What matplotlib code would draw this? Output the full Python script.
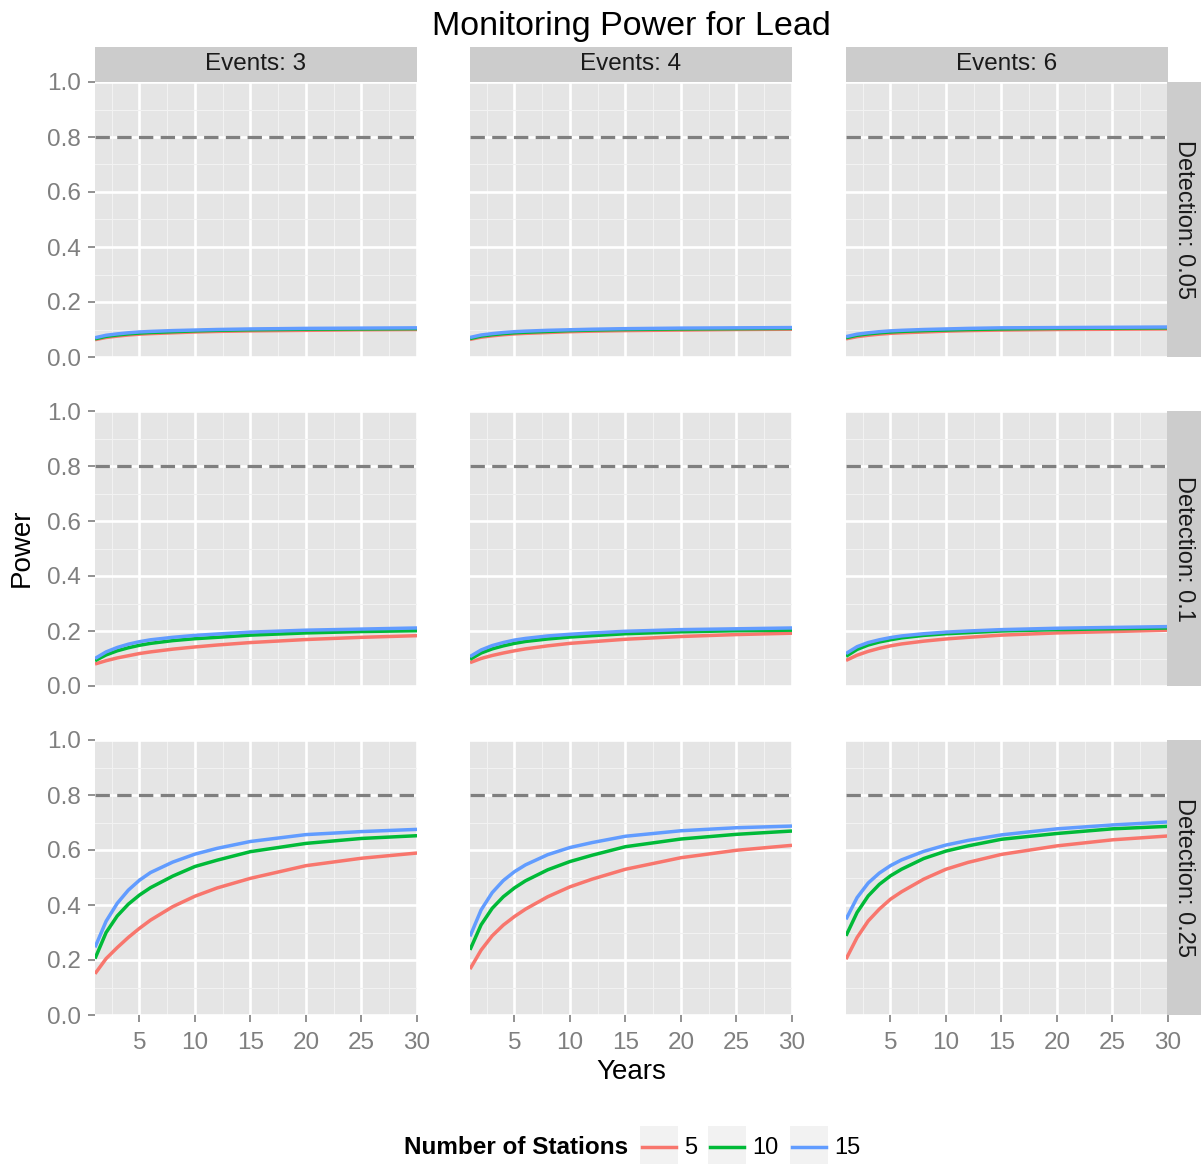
import matplotlib
matplotlib.use("Agg")
import matplotlib.pyplot as plt
from matplotlib.patches import Rectangle
from matplotlib.lines import Line2D
from matplotlib.ticker import MultipleLocator

plt.rcParams['font.family'] = ['Liberation Sans', 'DejaVu Sans']

# Данные
YEARS = [1, 2, 3, 4, 5, 6, 8, 10, 12, 15, 20, 25, 30]
EVENTS = [3, 4, 6]
DETECTION = [0.05, 0.1, 0.25]
STATIONS = [5, 10, 15]

# Detection 0.05
D005_E3_S5 = [.063, .071, .076, .080, .083, .085, .088, .091, .093, .095, .097, .099, .100]
D005_E3_S10 = [.066, .075, .080, .084, .087, .089, .092, .095, .097, .099, .101, .102, .103]
D005_E3_S15 = [.070, .079, .084, .088, .091, .093, .096, .098, .100, .102, .104, .105, .106]
D005_E4_S5 = [.064, .072, .077, .081, .084, .086, .089, .092, .094, .096, .098, .100, .101]
D005_E4_S10 = [.067, .076, .081, .085, .088, .090, .093, .096, .098, .100, .102, .103, .104]
D005_E4_S15 = [.071, .080, .085, .089, .092, .094, .097, .099, .101, .103, .105, .106, .107]
D005_E6_S5 = [.066, .074, .079, .083, .086, .088, .091, .094, .096, .098, .100, .101, .102]
D005_E6_S10 = [.070, .079, .084, .088, .091, .093, .096, .098, .100, .102, .104, .105, .106]
D005_E6_S15 = [.074, .083, .088, .092, .095, .097, .100, .102, .104, .106, .107, .108, .109]

# Detection 0.1
D01_E3_S5 = [.080, .092, .102, .110, .118, .124, .134, .142, .149, .158, .169, .177, .183]
D01_E3_S10 = [.092, .113, .128, .139, .148, .155, .165, .172, .177, .185, .193, .198, .201]
D01_E3_S15 = [.100, .124, .140, .152, .161, .168, .177, .184, .189, .196, .203, .207, .211]
D01_E4_S5 = [.085, .100, .111, .120, .128, .135, .146, .155, .161, .170, .180, .187, .192]
D01_E4_S10 = [.097, .120, .135, .146, .155, .162, .171, .178, .183, .190, .197, .201, .203]
D01_E4_S15 = [.107, .131, .147, .158, .167, .173, .182, .188, .193, .199, .205, .208, .211]
D01_E6_S5 = [.093, .112, .126, .137, .146, .153, .163, .171, .177, .185, .193, .198, .203]
D01_E6_S10 = [.108, .133, .149, .160, .168, .175, .184, .190, .194, .200, .205, .208, .211]
D01_E6_S15 = [.118, .143, .158, .168, .176, .182, .190, .196, .200, .205, .210, .213, .216]

# Detection 0.25
D025_E3_S5 = [.150, .205, .245, .282, .315, .345, .394, .432, .462, .497, .543, .570, .589]
D025_E3_S10 = [.205, .300, .360, .403, .436, .463, .505, .540, .563, .594, .624, .642, .652]
D025_E3_S15 = [.246, .341, .406, .454, .490, .518, .556, .585, .606, .631, .656, .667, .675]
D025_E4_S5 = [.167, .236, .288, .327, .358, .385, .430, .466, .494, .530, .572, .599, .617]
D025_E4_S10 = [.237, .328, .388, .430, .462, .488, .528, .558, .581, .612, .640, .657, .669]
D025_E4_S15 = [.286, .382, .445, .489, .521, .546, .583, .609, .627, .650, .670, .681, .687]
D025_E6_S5 = [.203, .282, .342, .385, .421, .448, .494, .530, .555, .584, .615, .637, .651]
D025_E6_S10 = [.288, .373, .433, .475, .506, .530, .569, .596, .615, .639, .660, .677, .686]
D025_E6_S15 = [.348, .427, .480, .516, .543, .564, .595, .618, .635, .655, .677, .691, .702]

POWER = {
    (0.05, 3): [D005_E3_S5, D005_E3_S10, D005_E3_S15],
    (0.05, 4): [D005_E4_S5, D005_E4_S10, D005_E4_S15],
    (0.05, 6): [D005_E6_S5, D005_E6_S10, D005_E6_S15],
    (0.1, 3): [D01_E3_S5, D01_E3_S10, D01_E3_S15],
    (0.1, 4): [D01_E4_S5, D01_E4_S10, D01_E4_S15],
    (0.1, 6): [D01_E6_S5, D01_E6_S10, D01_E6_S15],
    (0.25, 3): [D025_E3_S5, D025_E3_S10, D025_E3_S15],
    (0.25, 4): [D025_E4_S5, D025_E4_S10, D025_E4_S15],
    (0.25, 6): [D025_E6_S5, D025_E6_S10, D025_E6_S15],
}
TARGET = 0.8

COLORS = ["#F8766D", "#00BA38", "#619CFF"]
PANEL_BG = "#E5E5E5"
STRIP_BG = "#CCCCCC"
TICK_COLOR = "#7F7F7F"

W, H = 1201, 1164
fig = plt.figure(figsize=(W / 100, H / 100), dpi=100)
fig.patch.set_facecolor("white")


def px_rect(x, y, w, h):
    """Пиксельный прямоугольник (от верхнего левого угла) -> доли фигуры."""
    return [x / W, 1 - (y + h) / H, w / W, h / H]


COL_X = [95, 470, 846]
ROW_Y = [82, 411, 740]
PW, PH = 322, 275

for r, det in enumerate(DETECTION):
    for c, ev in enumerate(EVENTS):
        ax = fig.add_axes(px_rect(COL_X[c], ROW_Y[r], PW, PH))
        ax.set_facecolor(PANEL_BG)
        for s in ax.spines.values():
            s.set_visible(False)
        ax.set_xlim(1, 30)
        ax.set_ylim(0, 1)
        ax.xaxis.set_major_locator(MultipleLocator(5))
        ax.xaxis.set_minor_locator(MultipleLocator(2.5))
        ax.yaxis.set_major_locator(MultipleLocator(0.2))
        ax.yaxis.set_minor_locator(MultipleLocator(0.1))
        ax.grid(which='minor', color='#F2F2F2', lw=0.8)
        ax.grid(which='major', color='white', lw=1.9)
        ax.set_axisbelow(True)
        ax.tick_params(which='minor', length=0)
        ax.tick_params(which='major', length=5, width=1.2, color=TICK_COLOR,
                       labelcolor=TICK_COLOR, labelsize=17.5)
        ax.tick_params(axis='y', pad=5)
        ax.tick_params(axis='x', pad=7)

        if c == 0:
            ax.yaxis.set_major_formatter(plt.FuncFormatter(lambda v, p: f"{v:.1f}"))
        else:
            ax.tick_params(axis='y', left=False, labelleft=False)
        if r == 2:
            ax.set_xticks([5, 10, 15, 20, 25, 30])
        else:
            ax.tick_params(axis='x', bottom=False, labelbottom=False)

        for k, series in enumerate(POWER[(det, ev)]):
            ax.plot(YEARS, series, color=COLORS[k], lw=2.5, solid_capstyle='butt',
                    solid_joinstyle='round', zorder=3)
        ax.axhline(TARGET, color="#7F7F7F", lw=2.3, ls=(0, (4.5, 2.3)), zorder=2)

        # Полоски с подписями фасетов
        if r == 0:
            sax = fig.add_axes(px_rect(COL_X[c], 47, PW, 35))
            sax.set_facecolor(STRIP_BG)
            sax.set_xticks([]); sax.set_yticks([])
            for s in sax.spines.values():
                s.set_visible(False)
            sax.text(0.5, 0.5, f"Events: {ev}", ha='center', va='center',
                     fontsize=17.5, color="#1A1A1A", transform=sax.transAxes)
        if c == 2:
            sax = fig.add_axes(px_rect(1167, ROW_Y[r], 40, PH))
            sax.set_facecolor(STRIP_BG)
            sax.set_xticks([]); sax.set_yticks([])
            for s in sax.spines.values():
                s.set_visible(False)
            sax.text(0.42, 0.5, f"Detection: {det:g}", ha='center', va='center',
                     rotation=-90, fontsize=17, color="#1A1A1A", transform=sax.transAxes)

# Заголовок и подписи осей
fig.text(631 / W, 1 - 26 / H, "Monitoring Power for Lead", ha='center', va='center',
         fontsize=24.5, color="black")
fig.text(631 / W, 1 - 1072 / H, "Years", ha='center', va='center', fontsize=20, color="black")
fig.text(22 / W, 1 - 548 / H, "Power", ha='center', va='center', rotation=90,
         fontsize=20, color="black")

# Легенда
lax = fig.add_axes([0, 0, 1, 1], zorder=-1)
lax.set_xlim(0, W)
lax.set_ylim(H, 0)
lax.axis('off')
lax.text(628, 1148, "Number of Stations", ha='right', va='center', fontsize=17.5,
         fontweight='bold', color="black")
key_x = [640, 708, 790]
for k, st in enumerate(STATIONS):
    x0 = key_x[k]
    lax.add_patch(Rectangle((x0, 1126), 38, 42, facecolor="#F2F2F2", edgecolor='none'))
    lax.add_line(Line2D([x0 + 2, x0 + 36], [1147, 1147], color=COLORS[k], lw=2.5))
    lax.text(x0 + 44, 1148, str(st), ha='left', va='center', fontsize=17, color="black")

fig.savefig("out.png", dpi=100, facecolor="white")
